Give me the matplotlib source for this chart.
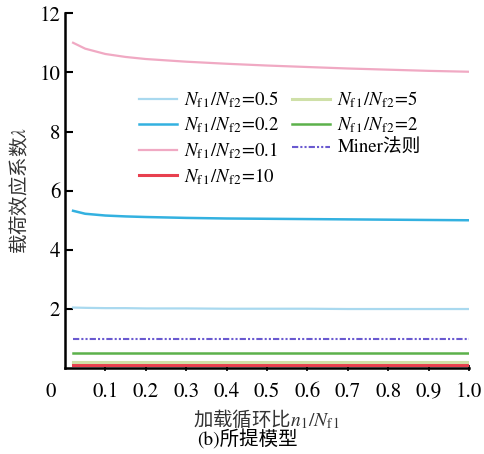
import numpy as np
import matplotlib
matplotlib.use('Agg')
import matplotlib.pyplot as plt

serif = ['STIXGeneral', 'Noto Sans CJK SC']
plt.rcParams['font.family'] = serif
plt.rcParams['mathtext.fontset'] = 'stix'

# load cycle ratio n1/Nf1
x = [0.02, 0.05, 0.1, 0.15, 0.2, 0.3, 0.4, 0.5, 0.6, 0.7, 0.8, 0.9, 1.0]

# load effect coefficient lambda for each Nf1/Nf2
lam_05 = [2.05, 2.04, 2.03, 2.03, 2.02, 2.02, 2.01, 2.01, 2.01, 2.00, 2.00, 2.00, 2.00]
lam_02 = [5.32, 5.22, 5.16, 5.13, 5.11, 5.08, 5.06, 5.05, 5.04, 5.03, 5.02, 5.01, 5.00]
lam_01 = [11.0, 10.8, 10.62, 10.52, 10.45, 10.36, 10.29, 10.23, 10.18, 10.13, 10.09, 10.05, 10.02]
lam_10 = [0.10] * len(x)
lam_5 = [0.20] * len(x)
lam_2 = [0.50] * len(x)
miner = [1.0] * len(x)

lab = r'$N_{\rm f\,1}/N_{\rm f\,2}$'

fig = plt.figure(figsize=(4.85, 4.54), dpi=100)
ax = fig.add_axes([0.134, 0.189, 0.833, 0.782])

l1, = ax.plot(x, lam_05, color='#a9d9ef', lw=1.6, label=lab + '=0.5')
l2, = ax.plot(x, lam_02, color='#33b1e0', lw=1.8, label=lab + '=0.2')
l3, = ax.plot(x, lam_01, color='#f0a9c3', lw=1.6, label=lab + '=0.1')
l4, = ax.plot(x, lam_10, color='#e8404f', lw=2.2, label=lab + '=10')
l5, = ax.plot(x, lam_5, color='#cfe0a8', lw=2.2, label=lab + '=5')
l6, = ax.plot(x, lam_2, color='#5cb14b', lw=1.8, label=lab + '=2')
l7, = ax.plot(x, miner, color='#6a5ad0', lw=1.5, ls=(0, (3, 1, 1, 1, 1, 1)), label='Miner法则')

ax.legend(handles=[l1, l2, l3, l4, l5, l6, l7], ncol=2, frameon=False,
          loc='upper left', bbox_to_anchor=(0.165, 0.807), borderaxespad=0,
          handlelength=2.0, handletextpad=0.4, labelspacing=0.28, columnspacing=0.7,
          prop={'family': serif, 'size': 13.5})

ax.set_xlim(0, 1.0)
ax.set_ylim(0, 12)
ax.set_xticks([0.1, 0.2, 0.3, 0.4, 0.5, 0.6, 0.7, 0.8, 0.9, 1.0])
ax.set_xticklabels(['0.1', '0.2', '0.3', '0.4', '0.5', '0.6', '0.7', '0.8', '0.9', '1.0'])
ax.set_yticks([2, 4, 6, 8, 10, 12])
ax.set_yticklabels(['2', '4', '6', '8', '10', '12'])
ax.tick_params(axis='y', direction='in', length=6, width=1.5, labelsize=15)
ax.tick_params(axis='x', direction='inout', length=4, width=1.2, labelsize=15, pad=8)
for s in ['top', 'right']:
    ax.spines[s].set_visible(False)
for s in ['left', 'bottom']:
    ax.spines[s].set_linewidth(1.8)

ax.text(-0.035, -0.04, '0', transform=ax.transAxes, fontsize=15, ha='center', va='top')

ax.set_ylabel('载荷效应系数$\\lambda$', fontsize=14, color='#333333',
              family=['Noto Sans CJK SC', 'DejaVu Sans'], labelpad=6)
ax.set_xlabel('加载循环比$\\mathbf{\\mathit{n}}_1/N_{\\rm f\\,1}$', fontsize=14, color='#333333',
              family=['Noto Sans CJK SC', 'DejaVu Sans'], labelpad=4)
fig.text(0.51, 0.01, '(b)所提模型', fontsize=14, ha='center', va='bottom', family=serif)

fig.savefig('out.png', dpi=100)
